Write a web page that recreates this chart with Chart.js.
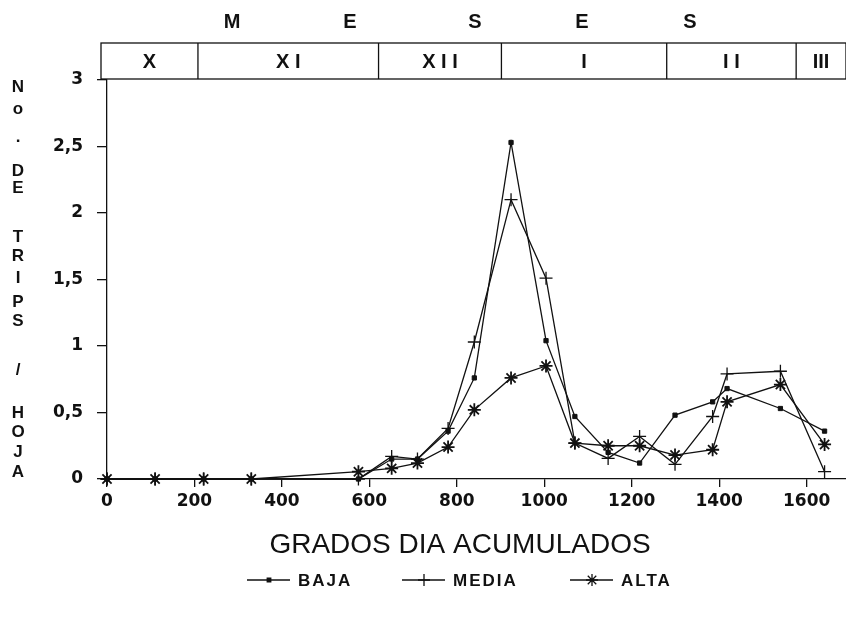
<!DOCTYPE html>
<html>
<head>
<meta charset="utf-8">
<script src="https://cdn.jsdelivr.net/npm/chart.js@4/dist/chart.umd.min.js"></script>
<style>
  html, body { margin: 0; padding: 0; background: #fff; }
  #wrap { width: 846px; height: 618px; position: relative; }
</style>
</head>
<body>
<div id="wrap"><canvas id="c"></canvas></div>
<script>
// grados dia acumulados (eje x)
const gradosDia = [0, 110, 221, 330, 575, 651, 710, 780, 840, 924, 1004, 1070, 1146, 1218, 1299, 1385, 1418, 1540, 1641];
const baja  = [0, 0, 0, 0, 0,     0.15, 0.15, 0.36, 0.76, 2.53, 1.04, 0.47, 0.20, 0.12, 0.48, 0.58, 0.68, 0.53, 0.36];
const media = [0, 0, 0, 0, 0,     0.17, 0.15, 0.38, 1.03, 2.10, 1.51, 0.27, 0.155, 0.32, 0.11, 0.47, 0.79, 0.81, 0.055];
const alta  = [0, 0, 0, 0, 0.055, 0.08, 0.12, 0.24, 0.52, 0.76, 0.85, 0.27, 0.25, 0.25, 0.18, 0.22, 0.58, 0.71, 0.26];
const seriesNames = ['BAJA', 'MEDIA', 'ALTA'];

const xTickLabels = ['0', '200', '400', '600', '800', '1000', '1200', '1400', '1600'];
const yTickLabels = ['0', '0,5', '1', '1,5', '2', '2,5', '3'];

// meses: limites en grados dia y nombres
const mesLimites = [208, 621, 902, 1280, 1576];
const mesNombres = ['X', 'X I', 'X I I', 'I', 'I I', 'III'];

const FONT = '"Liberation Sans", Arial, sans-serif';
const TICKFONT = '"DejaVu Sans", sans-serif';
const INK = '#111';

const toPoints = vals => vals.map((v, i) => ({ x: gradosDia[i], y: v }));

const markers = [
    { pointStyle: 'rect', pointRadius: 3, pointBorderWidth: 1, pointBackgroundColor: INK },
    { pointStyle: 'cross', pointRadius: 6.5, pointBorderWidth: 1.3, pointBackgroundColor: INK },
    { pointStyle: 'star', pointRadius: 6.5, pointBorderWidth: 1.8, pointBackgroundColor: INK }
];

const datasets = [baja, media, alta].map((vals, i) => Object.assign({
    label: seriesNames[i],
    data: toPoints(vals),
    borderColor: INK,
    pointBorderColor: INK,
    borderWidth: 1.3,
    tension: 0,
    clip: false
}, markers[i]));

const decorPlugin = {
    id: 'decor',
    afterDraw(chart) {
        const ctx = chart.ctx;
        const area = chart.chartArea;
        const xs = chart.scales.x;
        ctx.save();
        ctx.fillStyle = INK;
        ctx.strokeStyle = INK;
        ctx.textAlign = 'center';
        ctx.textBaseline = 'middle';

        // MESES
        ctx.font = 'bold 20px ' + FONT;
        const mesesX = [232, 350, 475, 582, 690];
        'MESES'.split('').forEach((ch, i) => ctx.fillText(ch, mesesX[i], 22));

        // banda de meses
        const top = 43, bot = area.top - 1;
        const left = area.left - 6, right = area.right;
        ctx.lineWidth = 1.3;
        ctx.strokeRect(left, top, right - left, bot - top);
        const edges = [left].concat(mesLimites.map(v => xs.getPixelForValue(v)), [right]);
        mesLimites.forEach(v => {
            const px = xs.getPixelForValue(v);
            ctx.beginPath();
            ctx.moveTo(px, top);
            ctx.lineTo(px, bot);
            ctx.stroke();
        });
        ctx.font = 'bold 20px ' + FONT;
        mesNombres.forEach((n, i) => ctx.fillText(n, (edges[i] + edges[i + 1]) / 2, (top + bot) / 2 + 1));

        // titulo eje y (letras apiladas)
        ctx.font = 'bold 17px ' + FONT;
        const yTitle = [['N', 87], ['o', 109], ['.', 137], ['D', 171], ['E', 188], ['T', 237], ['R', 256],
            ['I', 278], ['P', 302], ['S', 321], ['/', 370], ['H', 413], ['O', 432], ['J', 452], ['A', 472]];
        yTitle.forEach(([ch, y]) => ctx.fillText(ch, 18, y));

        // titulo eje x
        ctx.font = '28px ' + FONT;
        ctx.fillText('GRADOS DIA ACUMULADOS', 460, 545);

        // leyenda
        const legendX = [247, 402, 570];
        const ly = 580;
        ctx.font = 'bold 17px ' + FONT;
        ctx.letterSpacing = '2px';
        ctx.textAlign = 'left';
        chart.data.datasets.forEach((ds, i) => {
            const x0 = legendX[i];
            ctx.lineWidth = 1.3;
            ctx.beginPath();
            ctx.moveTo(x0, ly);
            ctx.lineTo(x0 + 43, ly);
            ctx.stroke();
            Chart.helpers.drawPoint(ctx, {
                pointStyle: ds.pointStyle,
                radius: i === 0 ? 2.5 : 6,
                borderWidth: ds.pointBorderWidth,
                rotation: 0
            }, x0 + 22, ly);
            ctx.fill();
            ctx.fillText(ds.label, x0 + 51, ly + 1);
        });
        ctx.restore();
    }
};

new Chart(document.getElementById('c').getContext('2d'), {
    type: 'line',
    data: { datasets },
    options: {
        responsive: true,
        maintainAspectRatio: false,
        animation: false,
        layout: { autoPadding: false, padding: { top: 80, right: 0, left: 0, bottom: 0 } },
        plugins: {
            legend: { display: false },
            tooltip: { enabled: false }
        },
        scales: {
            x: {
                type: 'linear',
                min: 0,
                max: 1690,
                afterFit: s => { s.height = 139; s.paddingLeft = 0; s.paddingRight = 0; },
                border: { display: true, color: INK, width: 1.3 },
                grid: { drawOnChartArea: false, drawTicks: true, tickLength: 8, color: INK, lineWidth: 1.3 },
                ticks: {
                    stepSize: 200,
                    includeBounds: false,
                    maxRotation: 0,
                    padding: 4,
                    color: INK,
                    font: { family: TICKFONT, size: 17, weight: 'bold' },
                    callback: (v, i) => xTickLabels[i]
                }
            },
            y: {
                min: 0,
                max: 3,
                afterFit: s => { s.width = 107; s.paddingTop = 0; s.paddingBottom = 0; },
                border: { display: true, color: INK, width: 1.3 },
                grid: { drawOnChartArea: false, drawTicks: true, tickLength: 10, color: INK, lineWidth: 1.3 },
                ticks: {
                    stepSize: 0.5,
                    padding: 14,
                    color: INK,
                    font: { family: TICKFONT, size: 17, weight: 'bold' },
                    callback: (v, i) => yTickLabels[i]
                }
            }
        }
    },
    plugins: [decorPlugin]
});
</script>
</body>
</html>
